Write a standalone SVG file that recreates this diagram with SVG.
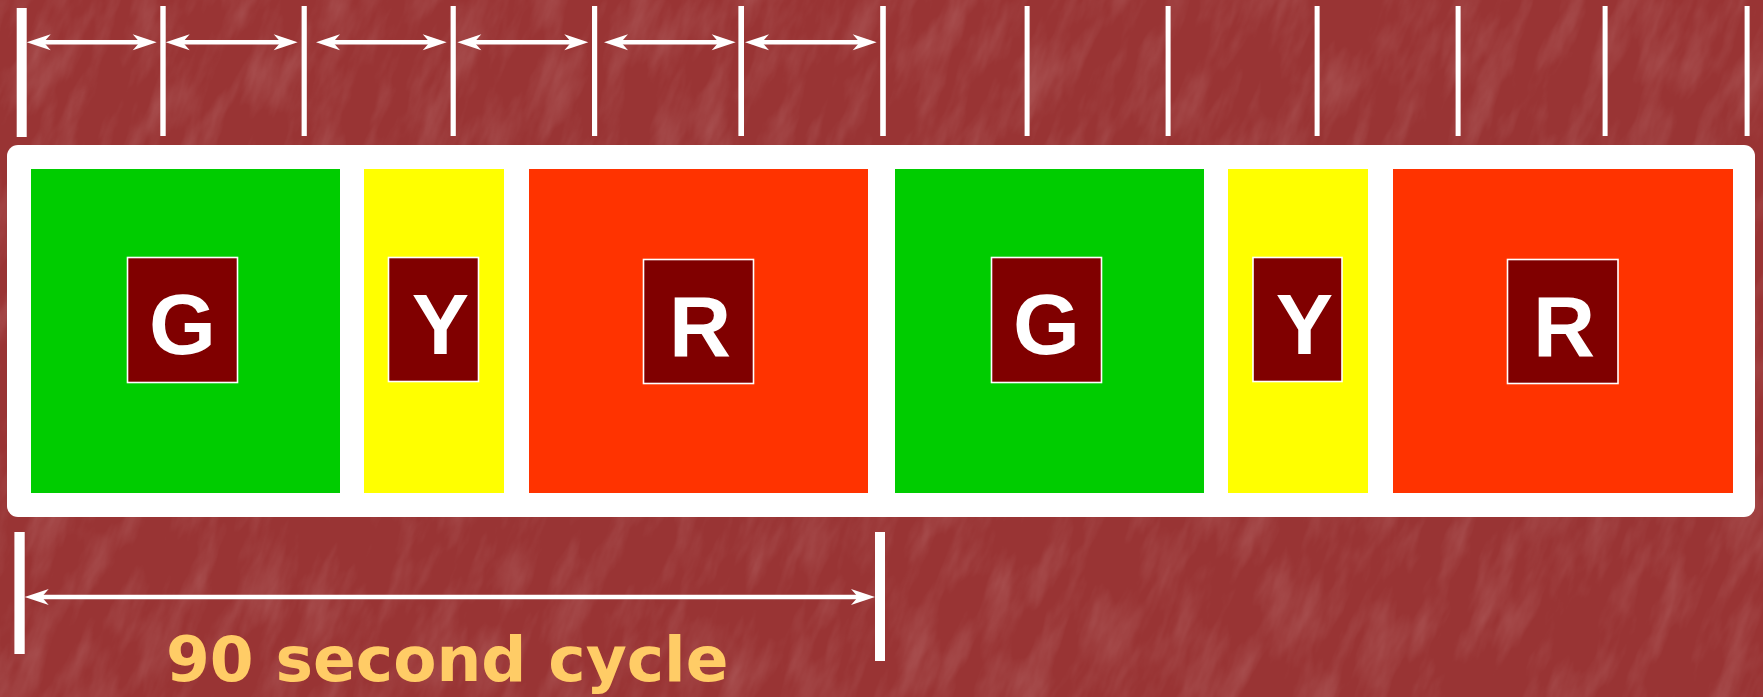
<svg xmlns="http://www.w3.org/2000/svg" width="1763" height="697" viewBox="0 0 1763 697">
  <style>
    .tick { fill: #ffffff; }
    .dim { stroke: #ffffff; stroke-width: 4.5; fill: none; marker-start: url(#ah); marker-end: url(#ah); }
    .g { fill: #00cc00; }
    .y { fill: #ffff00; }
    .r { fill: #ff3300; }
    .lbl { fill: #800000; stroke: #ffffff; stroke-width: 1.6; }
    .lt { font-family: "Liberation Sans", Arial, sans-serif; font-weight: bold; font-size: 86px; fill: #ffffff; text-anchor: middle; }
    .cap { font-family: "DejaVu Sans", Verdana, sans-serif; font-weight: bold; font-size: 63px; fill: #ffcc66; }
  </style>
  <defs>
    <marker id="ah" markerUnits="userSpaceOnUse" viewBox="-25 -9 26 18" refX="-10" refY="0" markerWidth="26" markerHeight="18" orient="auto-start-reverse">
      <path d="M0,0 L-24,-8 L-17,0 L-24,8 Z" fill="#ffffff"/>
    </marker>
    <filter id="tex" x="0" y="0" width="100%" height="100%">
      <feTurbulence type="fractalNoise" baseFrequency="0.04 0.012" numOctaves="4" seed="11"/>
      <feColorMatrix type="matrix" values="0 0 0 0 1  0 0 0 0 0.85  0 0 0 0 0.85  1.6 0 0 0 -0.68"/>
    </filter>
  </defs>

  <g id="background">
    <rect x="0" y="0" width="1763" height="697" fill="#993434"/>
    <g transform="rotate(20 880 350)">
      <rect x="-400" y="-600" width="2600" height="1900" filter="url(#tex)" opacity="0.18"/>
    </g>
  </g>

  <g id="strip">
    <rect x="7" y="145" width="1748" height="372" rx="11" ry="11" fill="#ffffff"/>
  </g>

  <g id="green-1">
    <rect class="g" x="31" y="169" width="309" height="324"/>
    <rect class="lbl" x="127.5" y="257.5" width="110" height="125"/>
    <text class="lt" x="182.5" y="353.5">G</text>
  </g>
  <g id="yellow-1">
    <rect class="y" x="364" y="169" width="140" height="324"/>
    <rect class="lbl" x="388.5" y="257.5" width="90" height="124"/>
    <text class="lt" x="440.5" y="353.5">Y</text>
  </g>
  <g id="red-1">
    <rect class="r" x="529" y="169" width="339" height="324"/>
    <rect class="lbl" x="643.5" y="259.5" width="110" height="124"/>
    <text class="lt" x="700" y="355.5">R</text>
  </g>
  <g id="green-2">
    <rect class="g" x="895" y="169" width="309" height="324"/>
    <rect class="lbl" x="991.5" y="257.5" width="110" height="125"/>
    <text class="lt" x="1046.5" y="353.5">G</text>
  </g>
  <g id="yellow-2">
    <rect class="y" x="1228" y="169" width="140" height="324"/>
    <rect class="lbl" x="1253" y="257.5" width="89" height="124"/>
    <text class="lt" x="1304.5" y="353.5">Y</text>
  </g>
  <g id="red-2">
    <rect class="r" x="1393" y="169" width="340" height="324"/>
    <rect class="lbl" x="1507.5" y="259.5" width="110.5" height="124"/>
    <text class="lt" x="1564" y="355.5">R</text>
  </g>

  <g id="connectors">
    <rect class="tick" x="16.7" y="8" width="10" height="129"/>
    <rect class="tick" x="160.3" y="6" width="5.4" height="130"/>
    <rect class="tick" x="301.6" y="6" width="5.2" height="130"/>
    <rect class="tick" x="450.6" y="6" width="5.2" height="130"/>
    <rect class="tick" x="592" y="6" width="5.2" height="130"/>
    <rect class="tick" x="738.4" y="6" width="5.6" height="130"/>
    <rect class="tick" x="880.2" y="6" width="5.6" height="130"/>
    <rect class="tick" x="1024.6" y="6" width="5" height="130"/>
    <rect class="tick" x="1165.6" y="6" width="5" height="130"/>
    <rect class="tick" x="1314.6" y="6" width="5" height="130"/>
    <rect class="tick" x="1455.6" y="6" width="5" height="130"/>
    <rect class="tick" x="1602.6" y="6" width="5" height="130"/>
    <rect class="tick" x="1744.6" y="6" width="5" height="130"/>
    <line class="dim" x1="36.7" y1="42.3" x2="146.7" y2="42.3"/>
    <line class="dim" x1="175.7" y1="42.3" x2="287.7" y2="42.3"/>
    <line class="dim" x1="326" y1="42.3" x2="436.7" y2="42.3"/>
    <line class="dim" x1="467.3" y1="42.3" x2="578.3" y2="42.3"/>
    <line class="dim" x1="614" y1="42.3" x2="725.7" y2="42.3"/>
    <line class="dim" x1="755" y1="42.3" x2="866.7" y2="42.3"/>
    <rect class="tick" x="14.4" y="532" width="10.3" height="122"/>
    <rect class="tick" x="875" y="532" width="10" height="129"/>
    <line class="dim" x1="34.7" y1="597" x2="865" y2="597"/>
  </g>

  <g id="caption">
    <text class="cap" x="166" y="681">90 second cycle</text>
  </g>
</svg>
